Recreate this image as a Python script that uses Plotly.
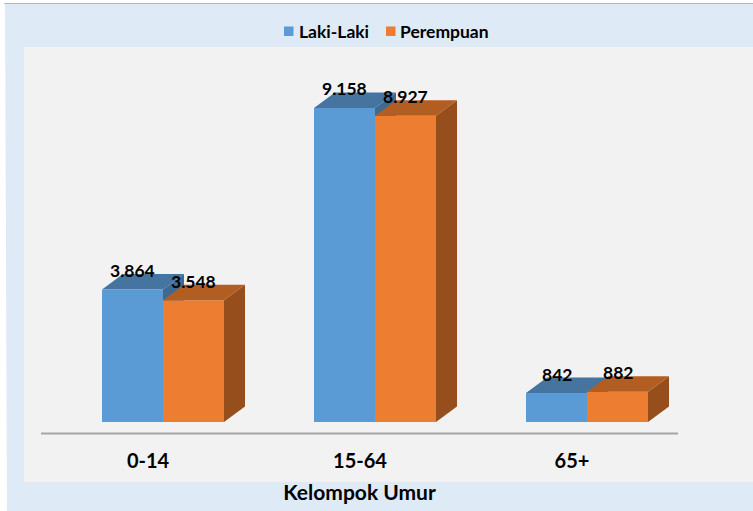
import plotly.graph_objects as go

categories = ["0-14", "15-64", "65+"]
laki_laki = [3864, 9158, 842]
perempuan = [3548, 8927, 882]
series_names = ["Laki-Laki", "Perempuan"]
axis_title = "Kelompok Umur"

W, H = 753, 511
L, R, T, B = 41, 678, 47, 434
PX_PER_UNIT = 0.0343
GROUP_PX = 212
BASE_PX = 422
X_RANGE = [-(163 - L) / GROUP_PX, (R - 163) / GROUP_PX]
Y_RANGE = [-(B - BASE_PX) / PX_PER_UNIT, (BASE_PX - T) / PX_PER_UNIT]
BAR_W = 61 / GROUP_PX
DX = 21 / GROUP_PX
DY = 15.5 / PX_PER_UNIT
LABEL_SHIFT = 15 / GROUP_PX

BLUE, ORANGE = "#5B9BD5", "#ED7D31"
BLUE_TOP, ORANGE_TOP = "#44749F", "#B25E22"
BLUE_SIDE, ORANGE_SIDE = "#3E6A92", "#964F1C"
FONT = "Lato"


def px(x):
    return (x - L) / (R - L)


def py(y):
    return (B - y) / (B - T)


def faces(x0, x1, v):
    top = ([x0, x1, x1 + DX, x0 + DX, x0], [v, v, v + DY, v + DY, v])
    side = ([x1, x1 + DX, x1 + DX, x1, x1], [0, DY, v + DY, v, 0])
    return top, side


def poly(xy, color, z):
    return go.Scatter(x=xy[0], y=xy[1], mode="lines", fill="toself", fillcolor=color,
                      line=dict(width=0, color=color), hoverinfo="skip",
                      showlegend=False, zorder=z)


fig = go.Figure()
positions = list(range(len(categories)))
for i in positions:
    for (x0, x1, v, ct, cs, z) in [
        (i - BAR_W, i, laki_laki[i], BLUE_TOP, BLUE_SIDE, 0),
        (i, i + BAR_W, perempuan[i], ORANGE_TOP, ORANGE_SIDE, 2),
    ]:
        top, side = faces(x0, x1, v)
        fig.add_trace(poly(side, cs, z))
        fig.add_trace(poly(top, ct, z))

for name, vals, color in [(series_names[0], laki_laki, BLUE), (series_names[1], perempuan, ORANGE)]:
    fig.add_trace(go.Bar(x=positions, y=vals, name=name, marker=dict(color=color, line=dict(width=0)),
                         showlegend=False, zorder=1))

for vals, off in [(laki_laki, -BAR_W / 2), (perempuan, BAR_W / 2)]:
    for i, v in zip(positions, vals):
        fig.add_annotation(x=i + off, y=v, text=f"{v:,}".replace(",", "."), showarrow=False,
                           yanchor="middle", yshift=19,
                           font=dict(family=FONT, size=17.5, color="#000000", weight="bold"))

# legend entries
legend_shapes = []
for name, color, sw0, tx in [(series_names[0], BLUE, 284, 297), (series_names[1], ORANGE, 386, 398)]:
    legend_shapes.append(dict(type="rect", xref="paper", yref="paper", layer="above",
                              line=dict(width=0), fillcolor=color,
                              x0=px(sw0), x1=px(sw0 + 9.5), y0=py(36), y1=py(26.5)))
    fig.add_annotation(xref="paper", yref="paper", x=px(tx), y=py(31.5), text=name, showarrow=False,
                       xanchor="left", yanchor="middle",
                       font=dict(family=FONT, size=17.5, color="#000000", weight="bold"))

fig.update_layout(
    width=W, height=H, autosize=False,
    margin=dict(l=L, r=W - R, t=T, b=H - B, pad=0, autoexpand=False),
    paper_bgcolor="#FFFFFF", plot_bgcolor="rgba(0,0,0,0)",
    barmode="group", bargap=1 - 2 * BAR_W, bargroupgap=0,
    font=dict(family=FONT, color="#000000"),
    showlegend=False,
    xaxis=dict(range=X_RANGE, tickmode="array",
               tickvals=[i - LABEL_SHIFT for i in positions], ticktext=categories,
               showgrid=False, zeroline=False, showline=False,
               ticks="outside", ticklen=9, tickcolor="rgba(0,0,0,0)",
               tickfont=dict(family=FONT, size=20, weight="bold", color="#000000"),
               title=dict(text=axis_title, standoff=14,
                          font=dict(family=FONT, size=21, weight="bold", color="#000000"))),
    yaxis=dict(range=Y_RANGE, showticklabels=False, showgrid=False, zeroline=False,
               showline=False, ticks=""),
    shapes=[
        dict(type="path", xref="paper", yref="paper", layer="below", line=dict(width=0),
             fillcolor="#DEEAF6",
             path=f"M {px(5)} {py(4)} L {px(W)} {py(4)} L {px(W)} {py(H)} L {px(7)} {py(H)} Z"),
        dict(type="line", xref="paper", yref="paper", layer="below",
             x0=px(4), x1=px(W), y0=py(3.5), y1=py(3.5), line=dict(color="#B5B5B5", width=1)),
        dict(type="rect", xref="paper", yref="paper", layer="below", line=dict(width=0),
             fillcolor="#F2F2F2", x0=px(24), x1=px(W), y0=py(482), y1=py(47)),
        dict(type="line", xref="paper", yref="paper", layer="below",
             x0=0, x1=1, y0=py(433.5), y1=py(433.5), line=dict(color="#A6A6A6", width=2)),
    ] + legend_shapes,
)

fig.write_html("out.html", config=dict(displayModeBar=False),
               post_script="document.body.style.margin='0';")
